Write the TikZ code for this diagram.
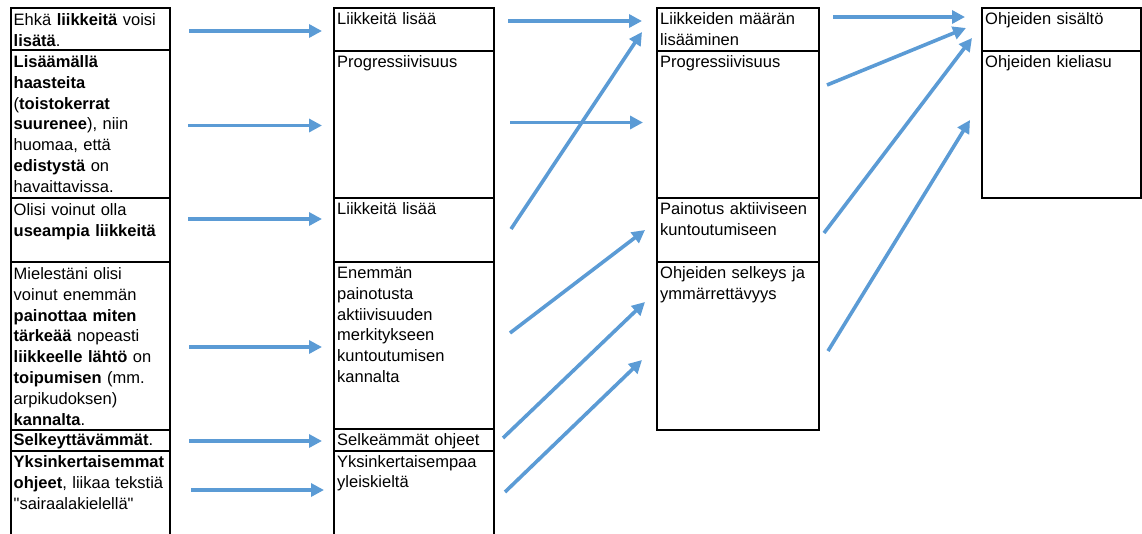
\documentclass[tikz,border=0pt]{standalone}
\usepackage{fontspec}
\setmainfont{Liberation Sans}
\newfontfamily\plainquote{Liberation Sans}
\usetikzlibrary{arrows.meta,calc}
\definecolor{arrowblue}{RGB}{91,155,213}
\begin{document}
\begin{tikzpicture}[x=1pt,y=-1pt,
  cell/.style={draw=black, line width=2.9pt, anchor=north west, inner sep=0pt, outer sep=0pt},
  txt/.style={anchor=base west, inner sep=0pt, align=left, text width=#1,
              font=\fontsize{16.5}{20.8}\selectfont},
  txt/.default=155pt,
  arr/.style={draw=arrowblue, line width=3.6pt, -{Triangle[length=13pt,width=13pt]}}]
\useasboundingbox (0,0) rectangle (1142,533);
\clip (0,0) rectangle (1142,533);

% column 1
\node[cell, minimum width=159pt, minimum height=42pt]  (a1) at (11,8)   {};
\node[cell, minimum width=159pt, minimum height=148pt] (a2) at (11,50)  {};
\node[cell, minimum width=159pt, minimum height=64pt]  (a3) at (11,198) {};
\node[cell, minimum width=159pt, minimum height=168pt] (a4) at (11,262) {};
\node[cell, minimum width=159pt, minimum height=21pt]  (a5) at (11,430) {};
\node[cell, minimum width=159pt, minimum height=94pt]  (a6) at (11,451) {};

% column 2
\node[cell, minimum width=160pt, minimum height=43pt]  (b1) at (334,8)   {};
\node[cell, minimum width=160pt, minimum height=147pt] (b2) at (334,51)  {};
\node[cell, minimum width=160pt, minimum height=64pt]  (b3) at (334,198) {};
\node[cell, minimum width=160pt, minimum height=167pt] (b4) at (334,262) {};
\node[cell, minimum width=160pt, minimum height=22pt]  (b5) at (334,429) {};
\node[cell, minimum width=160pt, minimum height=94pt]  (b6) at (334,451) {};

% column 3
\node[cell, minimum width=162pt, minimum height=43pt]  (c1) at (657,8)   {};
\node[cell, minimum width=162pt, minimum height=147pt] (c2) at (657,51)  {};
\node[cell, minimum width=162pt, minimum height=64pt]  (c3) at (657,198) {};
\node[cell, minimum width=162pt, minimum height=168pt] (c4) at (657,262) {};

% column 4
\node[cell, minimum width=159pt, minimum height=43pt]  (d1) at (982,8)  {};
\node[cell, minimum width=159pt, minimum height=147pt] (d2) at (982,51) {};

% texts column 1
\node[txt] (ta1) at ($(a1.north west)+(2.5,17.5)$) {Ehkä \textbf{liikkeitä} voisi\\\textbf{lisätä}.};
\node[txt] (ta2) at ($(a2.north west)+(2.5,17.5)$) {\textbf{Lisäämällä}\\\textbf{haasteita}\\(\textbf{toistokerrat}\\\textbf{suurenee}), niin\\huomaa, että\\\textbf{edistystä} on\\havaittavissa.};
\node[txt] (ta3) at ($(a3.north west)+(2.5,17.5)$) {Olisi voinut olla\\\textbf{useampia liikkeitä}};
\node[txt] (ta4) at ($(a4.north west)+(2.5,17.5)$) {Mielestäni olisi\\voinut enemmän\\\textbf{painottaa miten}\\\textbf{tärkeää} nopeasti\\\textbf{liikkeelle lähtö} on\\\textbf{toipumisen} (mm.\\arpikudoksen)\\\textbf{kannalta}.};
\node[txt] (ta5) at ($(a5.north west)+(2.5,15.5)$) {\textbf{Selkeyttävämmät}.};
\node[txt] (ta6) at ($(a6.north west)+(2.5,16.5)$) {\textbf{Yksinkertaisemmat}\\\textbf{ohjeet}, liikaa tekstiä\\{\plainquote"sairaalakielellä"}};

% texts column 2
\node[txt] (tb1) at ($(b1.north west)+(3,16.5)$) {Liikkeitä lisää};
\node[txt] (tb2) at ($(b2.north west)+(3,16.5)$) {Progressiivisuus};
\node[txt] (tb3) at ($(b3.north west)+(3,16.5)$) {Liikkeitä lisää};
\node[txt] (tb4) at ($(b4.north west)+(3,16.5)$) {Enemmän\\painotusta\\aktiivisuuden\\merkitykseen\\kuntoutumisen\\kannalta};
\node[txt] (tb5) at ($(b5.north west)+(3,16)$) {Selkeämmät ohjeet};
\node[txt] (tb6) at ($(b6.north west)+(3,16)$) {Yksinkertaisempaa\\yleiskieltä};

% texts column 3
\node[txt] (tc1) at ($(c1.north west)+(3,16.5)$) {Liikkeiden määrän\\lisääminen};
\node[txt] (tc2) at ($(c2.north west)+(3,16.5)$) {Progressiivisuus};
\node[txt] (tc3) at ($(c3.north west)+(3,16.5)$) {Painotus aktiiviseen\\kuntoutumiseen};
\node[txt] (tc4) at ($(c4.north west)+(3,16.5)$) {Ohjeiden selkeys ja\\ymmärrettävyys};

% texts column 4
\node[txt] (td1) at ($(d1.north west)+(3,16.5)$) {Ohjeiden sisältö};
\node[txt] (td2) at ($(d2.north west)+(3,16.5)$) {Ohjeiden kieliasu};

% arrows column 1 -> column 2
\draw[arr] ($(a1.east)+(19,2)$)   -- ($(b1.west)+(-12,1.5)$);
\draw[arr] ($(a2.east)+(18,1.5)$) -- ($(b2.west)+(-12,1)$);
\draw[arr] ($(a3.east)+(18,-11)$) -- ($(b3.west)+(-12,-11)$);
\draw[arr] ($(a4.east)+(19,1)$)   -- ($(b4.west)+(-12,1.5)$);
\draw[arr] ($(a5.east)+(19,0.5)$) -- ($(b5.west)+(-12,1)$);
\draw[arr] ($(a6.east)+(21,-8)$)  -- ($(b6.west)+(-10,-8)$);

% arrows column 2 -> column 3
\draw[arr] ($(b1.east)+(14,-8.5)$) -- ($(c1.west)+(-15,-8.5)$);
\draw[arr] ($(b2.east)+(16,-2)$)   -- ($(c2.west)+(-14,-2)$);
\draw[arr] ($(b3.east)+(17,-1)$)   -- ($(c1.west)+(-15,2.5)$);
\draw[arr] ($(b4.east)+(16,-12.5)$) -- ($(c3.west)+(-12,0)$);
\draw[arr] ($(b5.east)+(9,-2)$)    -- ($(c4.west)+(-12,-44)$);
\draw[arr] ($(b6.east)+(11,-6)$)   -- ($(c4.west)+(-15,14)$);

% arrows column 3 -> column 4
\draw[arr] ($(c1.east)+(14,-12.5)$) -- ($(d1.west)+(-17,-12.5)$);
\draw[arr] ($(c2.east)+(8,-39.5)$)  -- ($(d1.west)+(-16,-1.5)$);
\draw[arr] ($(c3.east)+(5,3)$)      -- ($(d1.west)+(-10,8.5)$);
\draw[arr] ($(c4.east)+(9,5)$)      -- ($(d2.west)+(-12,-4.5)$);
\end{tikzpicture}
\end{document}
